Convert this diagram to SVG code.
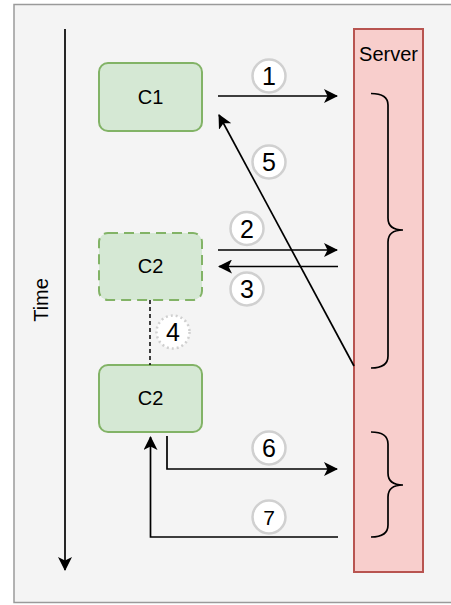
<svg xmlns="http://www.w3.org/2000/svg" width="451" height="605" viewBox="0 0 451 605">
  <style>
    .lbl { font-family: "Liberation Sans", Arial, sans-serif; font-size: 20px; fill: #000; }
    .num { font-family: "Liberation Sans", Arial, sans-serif; font-size: 25px; fill: #000; text-anchor: middle; }
    .node { fill: #d5e8d4; stroke: #82b366; stroke-width: 2; }
    .badge { fill: #fff; stroke: #d0d0d0; stroke-width: 2.5; }
    .wire { fill: none; stroke: #000; stroke-width: 1.7; }
    .brace { fill: none; stroke: #000; stroke-width: 1.7; }
  </style>
  <defs>
    <marker id="arrow" viewBox="0 0 14 14" refX="13" refY="7" markerWidth="14" markerHeight="14" markerUnits="userSpaceOnUse" orient="auto">
      <path d="M0,0 L14,7 L0,14 L3.5,7 Z" fill="#000"/>
    </marker>
  </defs>

  <!-- canvas -->
  <rect x="14" y="4.5" width="450" height="598" fill="#f4f4f4" stroke="#9a9a9a" stroke-width="1.5"/>

  <!-- time axis -->
  <g id="time-axis">
    <line class="wire" x1="65" y1="29" x2="65" y2="570" marker-end="url(#arrow)"/>
    <text class="lbl" transform="translate(48,300) rotate(-90)" text-anchor="middle">Time</text>
  </g>

  <!-- server -->
  <g id="server">
    <rect x="354" y="29" width="69" height="543" fill="#f8cecc" stroke="#b85450" stroke-width="2"/>
    <text class="lbl" x="388.5" y="61" text-anchor="middle">Server</text>
    <path class="brace" d="M371,93.5 Q388,93.5 388,105 L388,218 Q388,230 403,230 Q388,230 388,242 L388,356 Q388,368 371,368"/>
    <path class="brace" d="M371,432 Q388,432 388,444 L388,473 Q388,485 403,485 Q388,485 388,497 L388,525 Q388,537 371,537"/>
  </g>

  <!-- clients -->
  <g id="c1">
    <rect class="node" x="99" y="63" width="103" height="68" rx="9"/>
    <text class="lbl" x="150.5" y="104" text-anchor="middle">C1</text>
  </g>
  <g id="c2-pending">
    <rect class="node" x="99" y="233" width="103" height="67" rx="9" stroke-dasharray="10 6"/>
    <text class="lbl" x="150.5" y="273" text-anchor="middle">C2</text>
  </g>
  <g id="c2">
    <rect class="node" x="99" y="365" width="103" height="67" rx="9"/>
    <text class="lbl" x="150.5" y="405" text-anchor="middle">C2</text>
  </g>

  <!-- connectors -->
  <g id="connectors">
    <line class="wire" x1="218" y1="96" x2="337" y2="96" marker-end="url(#arrow)"/>
    <line class="wire" x1="218" y1="250" x2="337" y2="250" marker-end="url(#arrow)"/>
    <line class="wire" x1="338" y1="266.5" x2="219" y2="266.5" marker-end="url(#arrow)"/>
    <line class="wire" x1="354" y1="366" x2="219" y2="115" marker-end="url(#arrow)"/>
    <line x1="150" y1="300" x2="150" y2="365" stroke="#000" stroke-width="1.5" stroke-dasharray="4 3"/>
    <polyline class="wire" points="167,436 167,469 337,469" marker-end="url(#arrow)"/>
    <polyline class="wire" points="338,537 150.5,537 150.5,437" marker-end="url(#arrow)"/>
  </g>

  <!-- step badges -->
  <g id="step-1">
    <circle class="badge" cx="269" cy="76" r="16.5"/>
    <text class="num" x="269" y="85">1</text>
  </g>
  <g id="step-2">
    <circle class="badge" cx="247" cy="228.5" r="16.5"/>
    <text class="num" x="247" y="237.5">2</text>
  </g>
  <g id="step-3">
    <circle class="badge" cx="247" cy="289" r="16.5"/>
    <text class="num" x="247" y="298">3</text>
  </g>
  <g id="step-4">
    <circle class="badge" cx="173" cy="332" r="16.5" stroke-dasharray="2 3"/>
    <text class="num" x="173" y="341">4</text>
  </g>
  <g id="step-5">
    <circle class="badge" cx="269" cy="162" r="16.5"/>
    <text class="num" x="269" y="171">5</text>
  </g>
  <g id="step-6">
    <circle class="badge" cx="269" cy="448" r="16.5"/>
    <text class="num" x="269" y="457">6</text>
  </g>
  <g id="step-7">
    <circle class="badge" cx="269" cy="517" r="16.5"/>
    <text class="num" x="269" y="524.5" style="font-size:21px">7</text>
  </g>
</svg>
